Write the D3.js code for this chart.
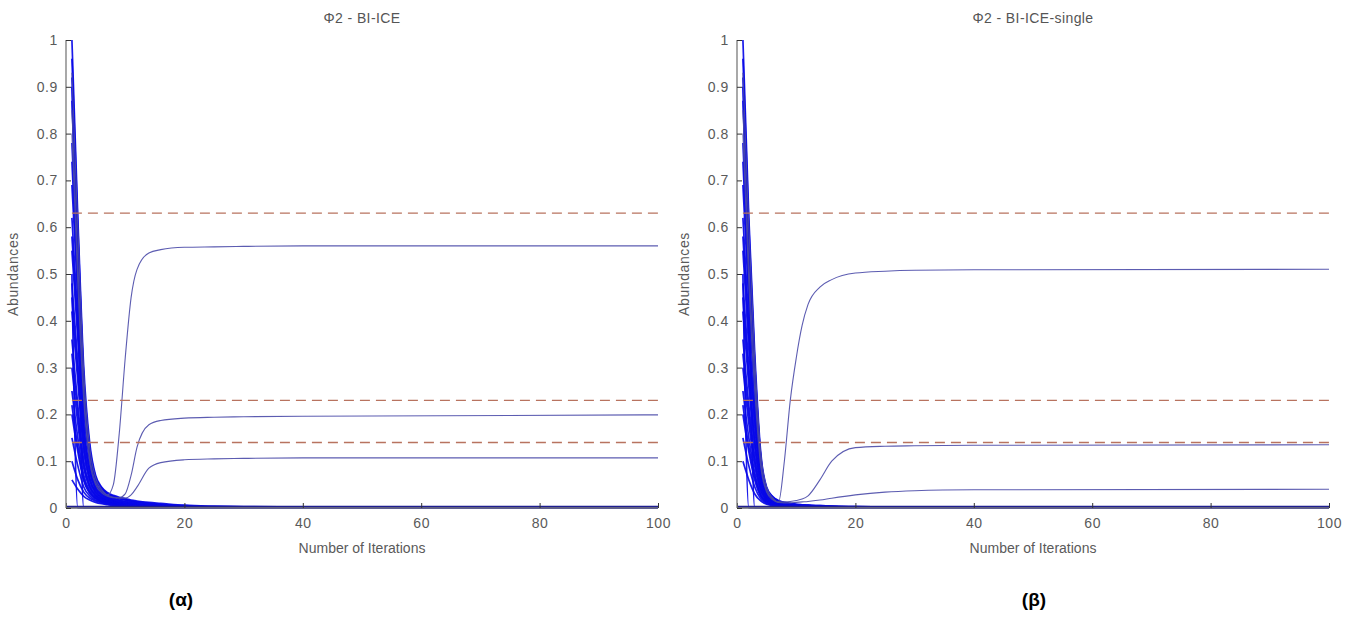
<!DOCTYPE html>
<html>
<head>
<meta charset="utf-8">
<script src="https://cdn.jsdelivr.net/npm/d3@7"></script>
<style>
  html, body { margin: 0; padding: 0; background: #fff; }
  svg { display: block; }
  text { font-family: "Liberation Sans", Arial, sans-serif; }
</style>
</head>
<body>
<svg id="chart" width="1360" height="626"></svg>
<script>
// ---------------- DATA ----------------
const iterations = [1,2,3,4,5,6,7,8,9,10,11,12,14,16,20,25,30,40,100];
const xTicks = [0,20,40,60,80,100];
const yTicks = [0,0.1,0.2,0.3,0.4,0.5,0.6,0.7,0.8,0.9,1];
const yTickLabels = ["0","0.1","0.2","0.3","0.4","0.5","0.6","0.7","0.8","0.9","1"];
const trueAbundances = [0.63, 0.23, 0.14];
const titles = ["\u03A62 - BI-ICE", "\u03A62 - BI-ICE-single"];
const captions = ["(\u03B1)", "(\u03B2)"];
const xLabel = "Number of Iterations";
const yLabel = "Abundances";

// panel (a): decaying estimates
const decayA = [
  [1.00,0.62,0.30,0.14,0.070,0.045,0.033,0.027,0.023,0.020,0.017,0.015,0.012,0.010,0.006,0.004,0.003,0.002,0.001],
  [0.96,0.60,0.28,0.13,0.066,0.043,0.031,0.025,0.021,0.018,0.015,0.013,0.010,0.008,0.005,0.003,0.002,0.001,0.001],
  [0.92,0.58,0.27,0.125,0.064,0.042,0.031,0.025,0.021,0.018,0.015,0.013,0.010,0.007,0.004,0.002,0.001,0,0],
  [0.87,0.55,0.26,0.12,0.062,0.040,0.030,0.024,0.020,0.017,0.014,0.012,0.009,0.007,0.004,0.002,0.001,0.001,0],
  [0.78,0.50,0.24,0.11,0.055,0.036,0.027,0.021,0.017,0.014,0.012,0.010,0.007,0.005,0.003,0.002,0.001,0,0],
  [0.74,0.47,0.22,0.105,0.052,0.034,0.025,0.020,0.016,0.013,0.011,0.009,0.006,0.004,0.002,0.001,0,0,0],
  [0.69,0.45,0.21,0.10,0.050,0.032,0.024,0.019,0.015,0.012,0.010,0.008,0.006,0.004,0.002,0.001,0,0,0],
  [0.62,0.40,0.18,0.085,0.045,0.030,0.022,0.017,0.013,0.010,0.008,0.007,0.005,0.003,0.002,0.001,0,0,0],
  [0.58,0.38,0.17,0.08,0.042,0.028,0.021,0.016,0.012,0.010,0.008,0.006,0.004,0.002,0.001,0,0,0,0],
  [0.55,0.36,0.16,0.075,0.040,0.027,0.020,0.015,0.011,0.009,0.007,0.006,0.004,0.002,0.001,0,0,0,0],
  [0.48,0.31,0.14,0.065,0.036,0.024,0.018,0.013,0.010,0.008,0.006,0.005,0.003,0.002,0.001,0,0,0,0],
  [0.45,0.29,0.13,0.062,0.034,0.023,0.017,0.013,0.010,0.008,0.006,0.004,0.002,0.001,0,0,0,0,0],
  [0.42,0.27,0.12,0.058,0.032,0.022,0.016,0.012,0.009,0.007,0.005,0.004,0.002,0.001,0,0,0,0,0],
  [0.36,0.22,0.10,0.050,0.028,0.020,0.015,0.011,0.008,0.006,0.004,0.003,0.002,0.001,0,0,0,0,0],
  [0.33,0.20,0.092,0.046,0.027,0.019,0.014,0.011,0.008,0.006,0.004,0.003,0.001,0,0,0,0,0,0],
  [0.30,0.18,0.085,0.043,0.025,0.018,0.013,0.010,0.007,0.005,0.003,0.002,0.001,0,0,0,0,0,0],
  [0.25,0.15,0.070,0.037,0.022,0.016,0.012,0.009,0.006,0.004,0.003,0.002,0.001,0,0,0,0,0,0],
  [0.22,0.13,0.062,0.034,0.021,0.015,0.011,0.008,0.006,0.004,0.002,0.001,0,0,0,0,0,0,0],
  [0.20,0.12,0.058,0.031,0.020,0.014,0.011,0.008,0.005,0.003,0.002,0.001,0,0,0,0,0,0,0],
  [0.15,0.09,0.045,0.026,0.017,0.013,0.010,0.007,0.004,0.003,0.002,0.001,0,0,0,0,0,0,0],
  [0.10,0.06,0.034,0.021,0.015,0.011,0.008,0.006,0.004,0.002,0.001,0,0,0,0,0,0,0,0],
  [0.06,0.04,0.025,0.017,0.012,0.009,0.007,0.005,0.003,0.002,0.001,0,0,0,0,0,0,0,0],
  [0.90,0.45,0,0,0,0,0,0,0,0,0,0,0,0,0,0,0,0,0],
  [0.50,0,0,0,0,0,0,0,0,0,0,0,0,0,0,0,0,0,0]
];
// panel (a): estimates that converge to non-zero abundances
const convergeA = [
  [0.93,0.60,0.29,0.13,0.065,0.040,0.028,0.050,0.160,0.320,0.450,0.510,0.545,0.552,0.557,0.558,0.559,0.560,0.560],
  [0.85,0.52,0.25,0.11,0.055,0.036,0.027,0.023,0.022,0.030,0.070,0.130,0.178,0.187,0.192,0.194,0.195,0.196,0.199],
  [0.80,0.48,0.23,0.10,0.050,0.033,0.025,0.022,0.021,0.021,0.028,0.045,0.085,0.097,0.103,0.105,0.106,0.107,0.107]
];

// panel (b): decaying estimates
const decayB = [
  [1.00,0.62,0.33,0.12,0.045,0.025,0.016,0.012,0.010,0.008,0.007,0.006,0.005,0.004,0.003,0.002,0.001,0.001,0],
  [0.96,0.60,0.31,0.11,0.042,0.024,0.015,0.011,0.009,0.008,0.007,0.006,0.005,0.004,0.003,0.002,0.001,0.001,0],
  [0.92,0.58,0.30,0.11,0.041,0.023,0.015,0.011,0.009,0.007,0.006,0.005,0.004,0.003,0.002,0.001,0.001,0,0],
  [0.87,0.55,0.29,0.105,0.040,0.022,0.014,0.010,0.008,0.007,0.006,0.005,0.004,0.003,0.002,0.001,0.001,0,0],
  [0.78,0.49,0.26,0.095,0.036,0.020,0.013,0.009,0.007,0.006,0.005,0.004,0.003,0.002,0.001,0.001,0,0,0],
  [0.74,0.47,0.245,0.09,0.034,0.019,0.012,0.009,0.007,0.005,0.004,0.003,0.002,0.001,0.001,0,0,0,0],
  [0.69,0.44,0.23,0.085,0.033,0.018,0.012,0.008,0.006,0.005,0.004,0.003,0.002,0.001,0.001,0,0,0,0],
  [0.62,0.39,0.20,0.075,0.030,0.017,0.011,0.008,0.006,0.004,0.003,0.002,0.001,0.001,0,0,0,0,0],
  [0.58,0.37,0.19,0.07,0.028,0.016,0.010,0.007,0.005,0.004,0.003,0.002,0.001,0,0,0,0,0,0],
  [0.55,0.34,0.175,0.066,0.027,0.015,0.010,0.007,0.005,0.004,0.003,0.002,0.001,0,0,0,0,0,0],
  [0.48,0.30,0.15,0.058,0.024,0.014,0.009,0.006,0.004,0.003,0.002,0.001,0.001,0,0,0,0,0,0],
  [0.45,0.28,0.14,0.054,0.022,0.013,0.008,0.006,0.004,0.003,0.002,0.001,0,0,0,0,0,0,0],
  [0.42,0.26,0.13,0.050,0.021,0.012,0.008,0.005,0.004,0.003,0.002,0.001,0,0,0,0,0,0,0],
  [0.36,0.22,0.11,0.043,0.019,0.011,0.007,0.005,0.003,0.002,0.001,0.001,0,0,0,0,0,0,0],
  [0.33,0.20,0.10,0.04,0.017,0.010,0.006,0.004,0.003,0.002,0.001,0,0,0,0,0,0,0,0],
  [0.30,0.18,0.09,0.036,0.016,0.010,0.006,0.004,0.003,0.002,0.001,0,0,0,0,0,0,0,0],
  [0.25,0.15,0.075,0.030,0.014,0.009,0.005,0.004,0.002,0.001,0.001,0,0,0,0,0,0,0,0],
  [0.22,0.13,0.067,0.027,0.013,0.008,0.005,0.003,0.002,0.001,0,0,0,0,0,0,0,0,0],
  [0.20,0.12,0.06,0.025,0.012,0.008,0.005,0.003,0.002,0.001,0,0,0,0,0,0,0,0,0],
  [0.15,0.09,0.045,0.020,0.010,0.006,0.004,0.003,0.002,0.001,0,0,0,0,0,0,0,0,0],
  [0.10,0.06,0.03,0.015,0.008,0.005,0.003,0.002,0.001,0,0,0,0,0,0,0,0,0,0],
  [0.90,0.45,0,0,0,0,0,0,0,0,0,0,0,0,0,0,0,0,0],
  [0.50,0,0,0,0,0,0,0,0,0,0,0,0,0,0,0,0,0,0]
];
// panel (b): estimates that converge to non-zero abundances
const convergeB = [
  [0.93,0.60,0.32,0.12,0.045,0.022,0.012,0.100,0.230,0.320,0.390,0.435,0.472,0.488,0.502,0.506,0.508,0.509,0.510],
  [0.85,0.52,0.28,0.10,0.038,0.020,0.013,0.013,0.014,0.016,0.019,0.026,0.060,0.100,0.129,0.132,0.133,0.134,0.135],
  [0.80,0.48,0.25,0.09,0.034,0.018,0.012,0.011,0.011,0.012,0.013,0.014,0.017,0.021,0.028,0.034,0.037,0.039,0.040]
];

// ---------------- DRAW ----------------
const svg = d3.select("#chart");
const panels = [
  { left: 66, right: 658, captionX: 181, decay: decayA, converge: convergeA, title: titles[0], caption: captions[0] },
  { left: 737, right: 1329, captionX: 1034, decay: decayB, converge: convergeB, title: titles[1], caption: captions[1] }
];
const plotTop = 40, plotBottom = 508;
const axisColor = "#7a7a7a";
const textColor = "#5a5a5a";

panels.forEach(p => {
  const x = d3.scaleLinear().domain([0, 100]).range([p.left, p.right]);
  const y = d3.scaleLinear().domain([0, 1]).range([plotBottom, plotTop]);
  const g = svg.append("g");
  const line = d3.line().x((d, i) => x(iterations[i])).y(d => y(d)).curve(d3.curveMonotoneX);

  g.selectAll("path.decay").data(p.decay).join("path")
    .attr("class", "decay")
    .attr("d", line)
    .attr("fill", "none")
    .attr("stroke", "#0808e8")
    .attr("stroke-opacity", 0.92)
    .attr("stroke-width", 1.7);

  g.selectAll("path.conv").data(p.converge).join("path")
    .attr("class", "conv")
    .attr("d", line)
    .attr("fill", "none")
    .attr("stroke", "#4a4aa8")
    .attr("stroke-opacity", 0.9)
    .attr("stroke-width", 1.1);

  g.selectAll("line.truth").data(trueAbundances).join("line")
    .attr("class", "truth")
    .attr("x1", x(1)).attr("x2", x(100))
    .attr("y1", d => y(d)).attr("y2", d => y(d))
    .attr("stroke", "#b8735f")
    .attr("stroke-width", 1.3)
    .attr("stroke-dasharray", "10,6");

  g.append("line")
    .attr("x1", x(0)).attr("x2", x(100))
    .attr("y1", y(0) - 1).attr("y2", y(0) - 1)
    .attr("stroke", "#1e1e90")
    .attr("stroke-width", 2.5);

  const xAxis = d3.axisBottom(x).tickValues(xTicks).tickSize(-5).tickPadding(10).tickFormat(d3.format("d"));
  const yAxis = d3.axisLeft(y).tickValues(yTicks).tickSize(-5).tickPadding(8)
    .tickFormat((d, i) => yTickLabels[i]);

  const gx = g.append("g").attr("transform", `translate(0,${plotBottom})`).call(xAxis);
  const gy = g.append("g").attr("transform", `translate(${p.left},0)`).call(yAxis);
  [gx, gy].forEach(a => {
    a.select(".domain").attr("stroke", axisColor).attr("stroke-width", 1.3);
    a.selectAll(".tick line").attr("stroke", "#333").attr("stroke-width", 1);
    a.selectAll(".tick text").attr("fill", textColor).attr("font-size", 14)
      .attr("letter-spacing", 0.6)
      .attr("font-family", "Liberation Sans, Arial, sans-serif");
  });
  gy.select(".domain").attr("d", `M0,${plotBottom}V${plotTop}`);
  gx.select(".domain").attr("d", `M${p.left},0H${p.right}`);

  g.append("text")
    .attr("x", (p.left + p.right) / 2).attr("y", 23)
    .attr("text-anchor", "middle").attr("font-size", 14).attr("letter-spacing", 0.4)
    .attr("fill", "#555")
    .text(p.title);

  g.append("text")
    .attr("x", (p.left + p.right) / 2).attr("y", 553)
    .attr("text-anchor", "middle").attr("font-size", 14).attr("fill", textColor)
    .text(xLabel);

  g.append("text")
    .attr("transform", `translate(${p.left - 48},${(plotTop + plotBottom) / 2}) rotate(-90)`)
    .attr("text-anchor", "middle").attr("font-size", 14).attr("letter-spacing", 0.6)
    .attr("fill", textColor)
    .text(yLabel);

  g.append("text")
    .attr("x", p.captionX).attr("y", 606)
    .attr("text-anchor", "middle").attr("font-size", 19).attr("font-weight", "bold")
    .attr("fill", "#000")
    .attr("font-family", "Open Sans, Liberation Sans, sans-serif")
    .text(p.caption);
});
</script>
</body>
</html>
